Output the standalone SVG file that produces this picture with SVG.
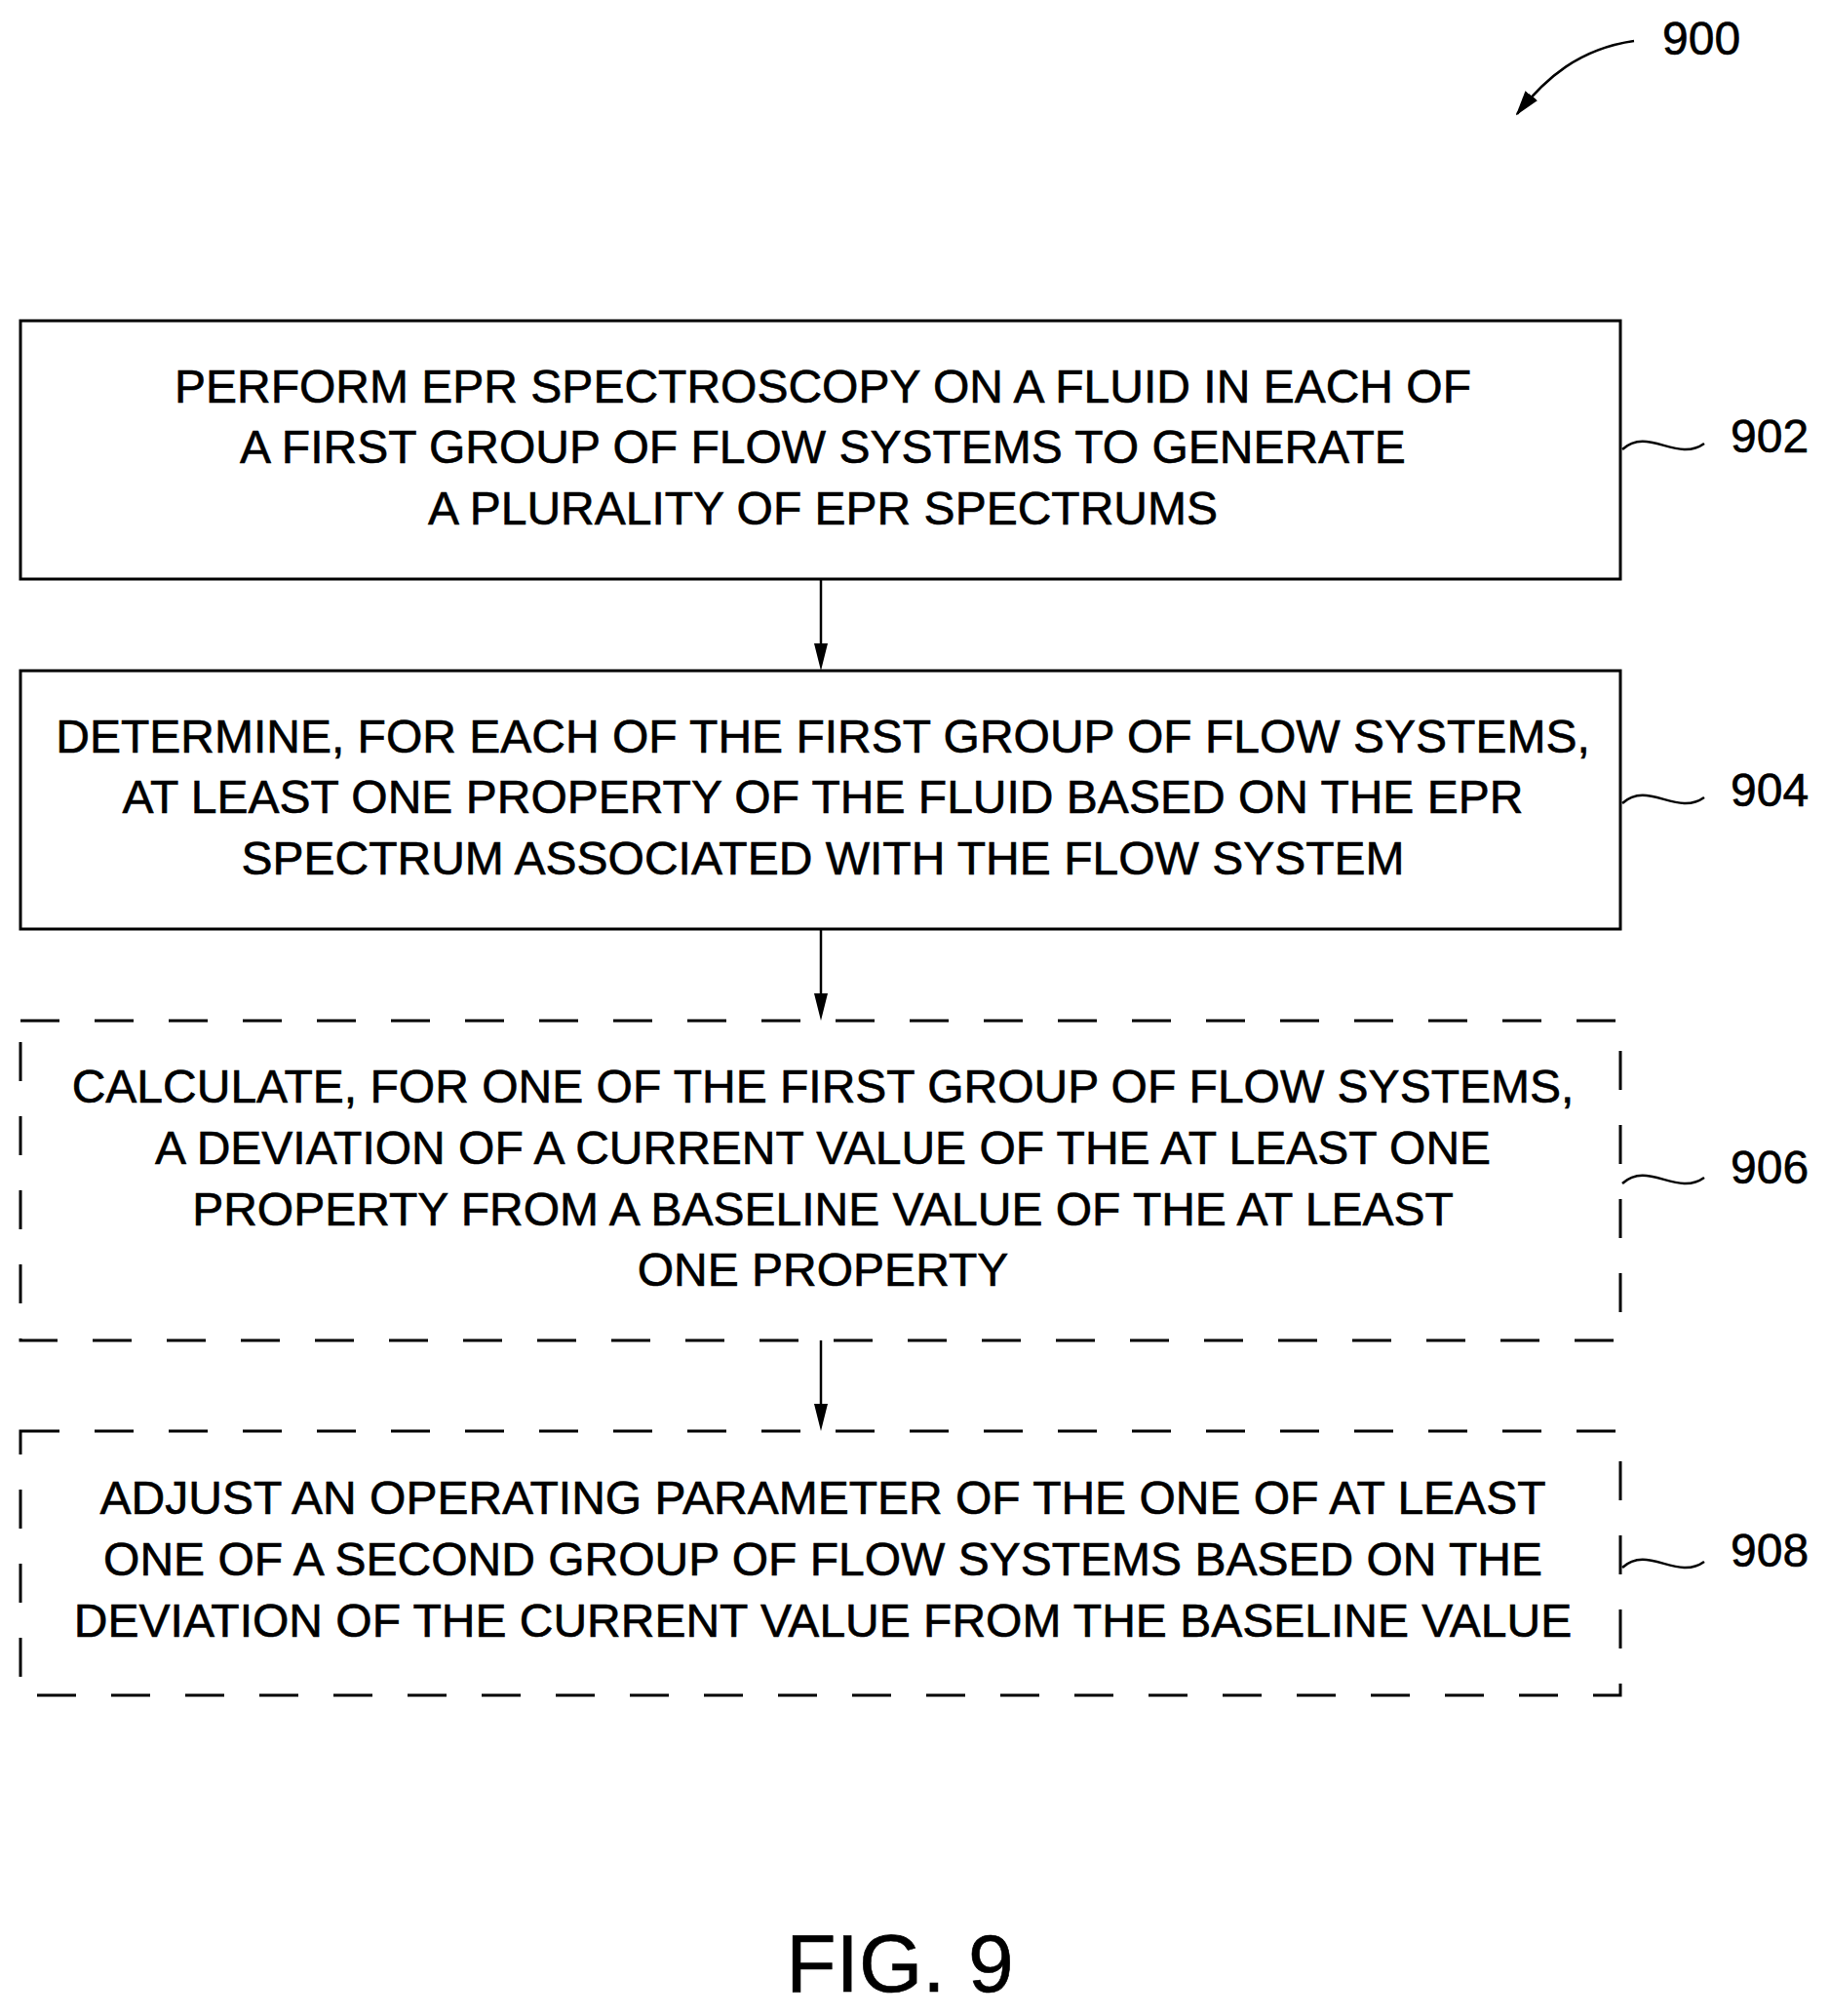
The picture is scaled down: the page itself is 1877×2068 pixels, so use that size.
<svg xmlns="http://www.w3.org/2000/svg" width="1877" height="2068" viewBox="0 0 1877 2068">
<style>
text{font-family:"Liberation Sans",Arial,sans-serif;fill:#000;stroke:#000;stroke-width:0.6}
.t{font-size:48px;text-anchor:middle}
.r{font-size:48px}
.b{fill:none;stroke:#000;stroke-width:3}
.d{stroke-dasharray:40 36}
.c{fill:none;stroke:#000;stroke-width:2.5}
</style>
<defs><marker id="h" markerWidth="26" markerHeight="26" refX="24" refY="8" orient="auto" markerUnits="userSpaceOnUse" viewBox="0 0 26 16"><path d="M0,0 L26,8 L0,16Z" fill="#000"/></marker></defs>
<rect width="1877" height="2068" fill="#fff"/>
<g id="n900"><text class="r" x="1705" y="56">900</text><path class="c" d="M1676,42 C1620,50 1585,80 1556,117" marker-end="url(#h)"/></g>
<g id="n902"><rect class="b" x="21" y="329" width="1641" height="265"/>
<text class="t" x="844" y="413">PERFORM EPR SPECTROSCOPY ON A FLUID IN EACH OF</text>
<text class="t" x="844" y="475">A FIRST GROUP OF FLOW SYSTEMS TO GENERATE</text>
<text class="t" x="844" y="538">A PLURALITY OF EPR SPECTRUMS</text>
<path class="c" d="M1664,461 C1690,437 1720,475 1748,455"/><text class="r" x="1775" y="464">902</text></g>
<g id="n904"><rect class="b" x="21" y="688" width="1641" height="265"/>
<text class="t" x="844" y="772">DETERMINE, FOR EACH OF THE FIRST GROUP OF FLOW SYSTEMS,</text>
<text class="t" x="844" y="834">AT LEAST ONE PROPERTY OF THE FLUID BASED ON THE EPR</text>
<text class="t" x="844" y="897">SPECTRUM ASSOCIATED WITH THE FLOW SYSTEM</text>
<path class="c" d="M1664,824 C1690,800 1720,838 1748,818"/><text class="r" x="1775" y="827">904</text></g>
<g id="n906"><rect class="b d" x="21" y="1047" width="1641" height="328"/>
<text class="t" x="844" y="1131">CALCULATE, FOR ONE OF THE FIRST GROUP OF FLOW SYSTEMS,</text>
<text class="t" x="844" y="1194">A DEVIATION OF A CURRENT VALUE OF THE AT LEAST ONE</text>
<text class="t" x="844" y="1257">PROPERTY FROM A BASELINE VALUE OF THE AT LEAST</text>
<text class="t" x="844" y="1319">ONE PROPERTY</text>
<path class="c" d="M1664,1214 C1690,1190 1720,1228 1748,1208"/><text class="r" x="1775" y="1214">906</text></g>
<g id="n908"><rect class="b d" x="21" y="1468" width="1641" height="271"/>
<text class="t" x="844" y="1553">ADJUST AN OPERATING PARAMETER OF THE ONE OF AT LEAST</text>
<text class="t" x="844" y="1616">ONE OF A SECOND GROUP OF FLOW SYSTEMS BASED ON THE</text>
<text class="t" x="844" y="1679">DEVIATION OF THE CURRENT VALUE FROM THE BASELINE VALUE</text>
<path class="c" d="M1664,1608 C1690,1584 1720,1622 1748,1602"/><text class="r" x="1775" y="1607">908</text></g>
<g id="connectors">
<path class="c" d="M842,594 V660"/><path d="M835,660 H849 L842,688Z"/>
<path class="c" d="M842,953 V1019"/><path d="M835,1019 H849 L842,1047Z"/>
<path class="c" d="M842,1375 V1440"/><path d="M835,1440 H849 L842,1468Z"/>
</g>
<text x="923" y="2043" style="font-size:84px;text-anchor:middle">FIG. 9</text>
</svg>
